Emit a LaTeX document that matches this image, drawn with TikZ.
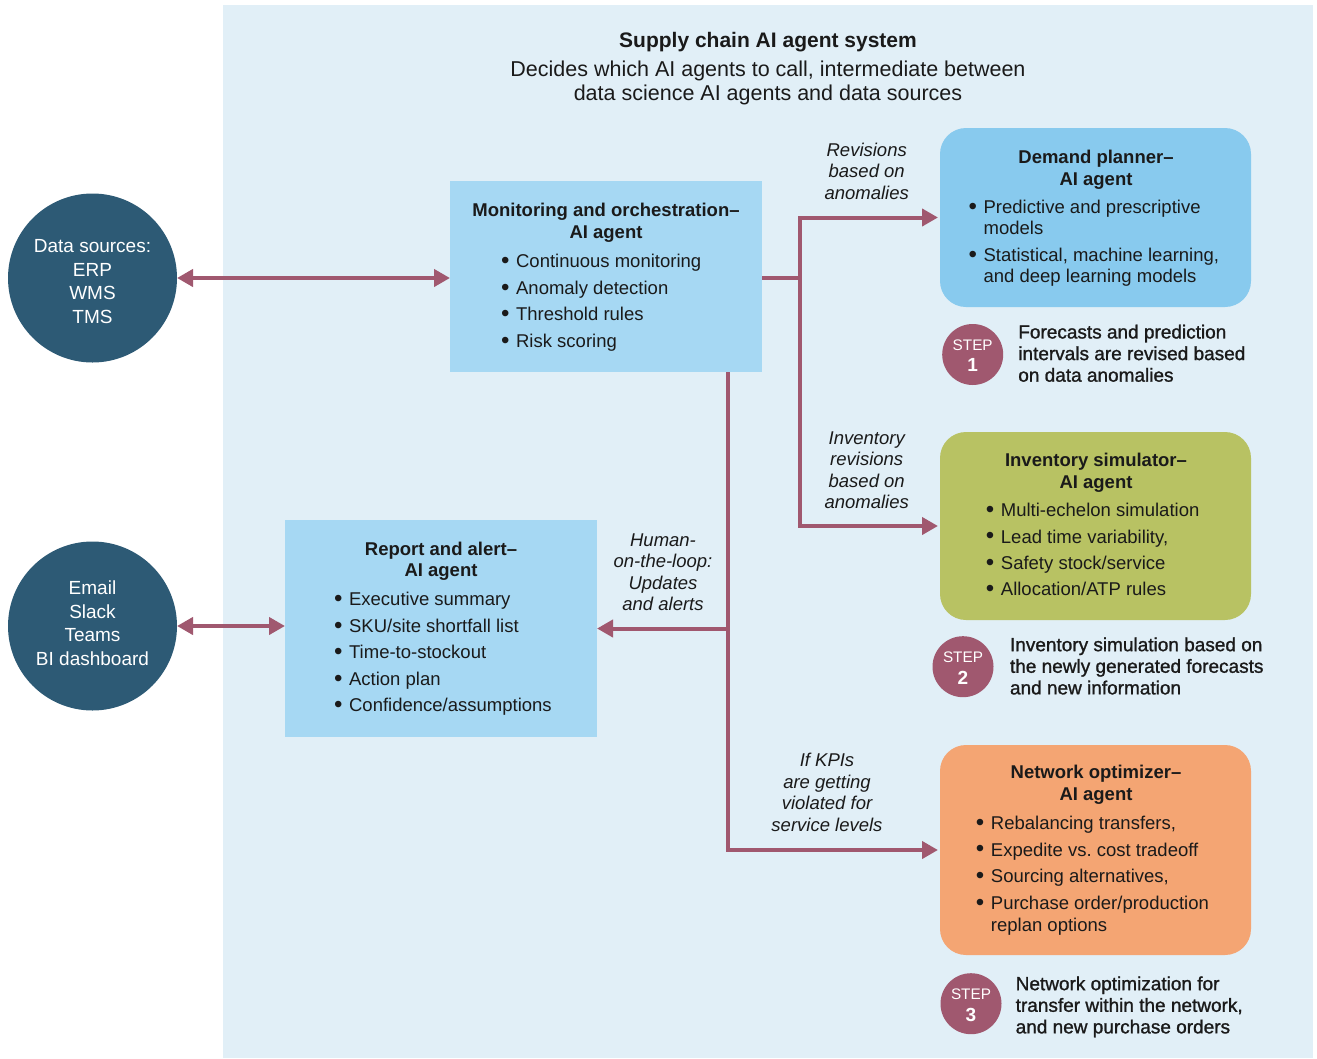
\documentclass[tikz,border=0pt]{standalone}
\usepackage{fontspec}
\setmainfont{Liberation Sans}
\newfontfamily\medfont{Liberation Sans}[FakeBold=1.2]
\usetikzlibrary{arrows.meta,calc}

\definecolor{panel}{HTML}{E1EFF7}
\definecolor{monblue}{HTML}{A6D8F3}
\definecolor{demblue}{HTML}{88CAEE}
\definecolor{invgreen}{HTML}{B8C263}
\definecolor{netorange}{HTML}{F4A573}
\definecolor{srcblue}{HTML}{2D5A75}
\definecolor{accent}{HTML}{A0586F}
\definecolor{ink}{HTML}{1A1A1A}

% bullet item and continuation line inside the agent boxes
\newcommand\bdot{\raisebox{-0.6pt}{\scalebox{1.3}{\textbullet}}}
\newcommand\bitem{\bdot\hspace{6.7pt}}
\newcommand\bcont{\hphantom{\bdot}\hspace{6.7pt}}

\begin{document}
\begin{tikzpicture}[x=1pt,y=-1pt,
  every node/.style={inner sep=0pt, outer sep=0pt, text=ink},
  box/.style={rectangle, anchor=north west},
  agent/.style={box, rounded corners=26pt},
  src/.style={circle, fill=srcblue, minimum size=169pt},
  stepdot/.style={circle, fill=accent, minimum size=61pt},
  head/.style={font=\bfseries\fontsize{18.5}{21.7}\selectfont, align=center, anchor=north},
  list/.style={font=\fontsize{18.5}{21.5}\selectfont, align=left, anchor=north west},
  note/.style={font=\itshape\fontsize{18.5}{21.4}\selectfont, align=center, anchor=north},
  steptext/.style={font=\medfont\fontsize{19}{21.6}\selectfont, align=left, anchor=north west},
  srctext/.style={font=\fontsize{19}{23.6}\selectfont, align=center, anchor=north, text=white},
  steplabel/.style={font=\fontsize{15.3}{16}\selectfont, anchor=base, text=white},
  stepnum/.style={font=\bfseries\fontsize{19}{20}\selectfont, anchor=base, text=white},
  arr/.style={draw=accent, line width=4pt},
  flow/.style={-{Triangle[length=16pt,width=17pt]}},
  flowboth/.style={{Triangle[length=16pt,width=17pt]}-{Triangle[length=16pt,width=17pt]}},
  ]
\useasboundingbox (0,0) rectangle (1317,1058);

% system panel
\fill[panel] (223,5) rectangle (1313,1058);

\node[font=\bfseries\fontsize{21}{25}\selectfont, anchor=base] (title) at (768,47.3) {Supply chain AI agent system};
\node[font=\fontsize{21.5}{24}\selectfont, align=center, anchor=north] (subtitle) at (768,60.6)
  {Decides which AI agents to call, intermediate between\\data science AI agents and data sources};

% boxes
\node[box, fill=monblue, minimum width=312pt, minimum height=191pt] (mon) at (450,181) {};
\node[box, fill=monblue, minimum width=312pt, minimum height=217pt] (rep) at (285,520) {};
\node[agent, fill=demblue, minimum width=311pt, minimum height=179pt] (dem) at (940,128) {};
\node[agent, fill=invgreen, minimum width=311pt, minimum height=188pt] (inv) at (940,432) {};
\node[agent, fill=netorange, minimum width=311pt, minimum height=210pt] (net) at (940,745) {};

% external endpoints
\node[src] (data) at (92.5,278) {};
\node[src] (chan) at (92.5,626) {};
\node[srctext] (datatext) at (92.5,239.7) {Data sources:\\ERP\\WMS\\TMS};
\node[srctext] (chantext) at (92.5,580.7) {Email\\Slack\\Teams\\BI dashboard};

% box contents
\node[head] (monhead) at (606,203.3) {Monitoring and orchestration\textendash\\AI agent};
\node[list] (monlist) at (501,254.5) {\bitem Continuous monitoring\\[5pt]\bitem Anomaly detection\\[5pt]\bitem Threshold rules\\[5pt]\bitem Risk scoring};

\node[head] (rephead) at (441,541.8) {Report and alert\textendash\\AI agent};
\node[list] (replist) at (334,592.5) {\bitem Executive summary\\[5pt]\bitem SKU/site shortfall list\\[5pt]\bitem Time-to-stockout\\[5pt]\bitem Action plan\\[5pt]\bitem Confidence/assumptions};

\node[head] (demhead) at (1096,150) {Demand planner\textendash\\AI agent};
\node[list] (demlist) at (968.5,200) {\bitem Predictive and prescriptive\\\bcont models\\[5pt]\bitem Statistical, machine learning,\\\bcont and deep learning models};

\node[head] (invhead) at (1096,453.5) {Inventory simulator\textendash\\AI agent};
\node[list] (invlist) at (985.8,503.5) {\bitem Multi-echelon simulation\\[4.8pt]\bitem Lead time variability,\\[4.8pt]\bitem Safety stock/service\\[4.8pt]\bitem Allocation/ATP rules};

\node[head] (nethead) at (1096,765) {Network optimizer\textendash\\AI agent};
\node[list] (netlist) at (975.8,816) {\bitem Rebalancing transfers,\\[5.2pt]\bitem Expedite vs.\ cost tradeoff\\[5.2pt]\bitem Sourcing alternatives,\\[5.2pt]\bitem Purchase order/production\\\bcont replan options};

% connectors
\coordinate (fork) at (800,278);
\coordinate (trunk) at (728,628);
\draw[arr, flowboth] (data.east) -- (data.east -| mon.west);
\draw[arr, flowboth] (chan.east) -- (chan.east -| rep.west);
\draw[arr] (mon.east |- fork) -- (fork);
\draw[arr, flow, shorten >=2pt] (fork) |- (dem.west);
\draw[arr, flow, shorten >=2pt] (fork) |- (inv.west);
\draw[arr, flow] (trunk |- rep.east) -- (rep.east);
\draw[arr, flow, shorten >=2pt] (mon.south -| trunk) |- (net.west);

% connector labels
\node[note] (lab1) at (866.7,142.8) {Revisions\\based on\\anomalies};
\node[note] (lab2) at (866.7,431.8) {Inventory\\revisions\\based on\\anomalies};
\node[note] (lab3) at (663,533.5) {Human-\\on-the-loop:\\Updates\\and alerts};
\node[note] (lab4) at (827,753.5) {If KPIs\\are getting\\violated for\\service levels};

% steps
\node[stepdot] (s1) at (972.7,354.5) {};
\node[steplabel] (s1a) at ($(s1)+(0,-4.3)$) {STEP};
\node[stepnum] (s1b) at ($(s1)+(0,17.3)$) {1};
\node[steptext] (s1text) at (1018.3,324.7) {Forecasts and prediction\\intervals are revised based\\on data anomalies};

\node[stepdot] (s2) at (963,666.7) {};
\node[steplabel] (s2a) at ($(s2)+(0,-4.3)$) {STEP};
\node[stepnum] (s2b) at ($(s2)+(0,17.3)$) {2};
\node[steptext] (s2text) at (1010,637.4) {Inventory simulation based on\\the newly generated forecasts\\and new information};

\node[stepdot] (s3) at (971,1003.7) {};
\node[steplabel] (s3a) at ($(s3)+(0,-4.3)$) {STEP};
\node[stepnum] (s3b) at ($(s3)+(0,17.3)$) {3};
\node[steptext] (s3text) at (1015.7,976.4) {Network optimization for\\transfer within the network,\\and new purchase orders};
\end{tikzpicture}
\end{document}
